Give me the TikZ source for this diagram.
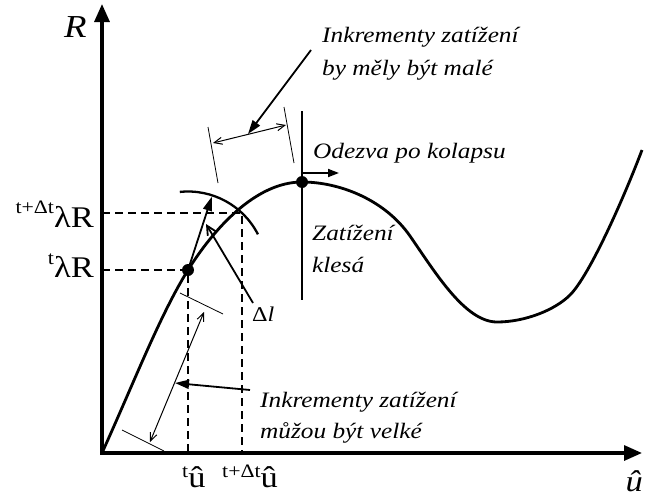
\documentclass[tikz,border=0pt]{standalone}
\usepackage{fontspec}
\setmainfont[FakeStretch=1.15]{Liberation Serif}
\usetikzlibrary{arrows.meta,calc}
\newcommand\supsc[2]{\raisebox{#2}{\fontsize{19}{19}\selectfont #1}}
\begin{document}
\begin{tikzpicture}[x=1pt,y=-1pt,
  axis/.style={line width=3.2pt,{Triangle[length=18pt,width=15pt]}-{Triangle[length=18pt,width=15pt]}},
  curve/.style={line width=2.8pt},
  thinline/.style={line width=0.8pt},
  guide/.style={line width=1.5pt,dash pattern=on 8pt off 5pt},
  pointer/.style={line width=1.8pt,-{Triangle[length=14pt,width=9pt]}},
  dimline/.style={line width=1pt,{Straight Barb[length=8pt,width=7pt]}-{Straight Barb[length=8pt,width=7pt]}},
  dot/.style={circle,fill,inner sep=0pt,minimum size=12pt},
  lbl/.style={inner sep=0pt,anchor=base west,font=\fontsize{22}{26}\selectfont\itshape},
  big/.style={inner sep=0pt,font=\fontsize{30}{30}\selectfont}]
\useasboundingbox (0,0) rectangle (646,498);
% key points
\coordinate (O) at (102,453);
\coordinate (ytop) at (102,4);
\coordinate (xend) at (642,453);
\coordinate (P1) at (188,270);
\coordinate (Q) at (242,213);
\coordinate (P2) at (302,182);
% axes
\draw[axis] (ytop) -- (O) -- (xend);
% curve
\draw[curve] (O) .. controls (135,380) and (160,315) .. (P1)
  .. controls (213,230) and (255,182) .. (P2)
  .. controls (340,182) and (385,200) .. (410,236)
  .. controls (435,272) and (465,322) .. (497,322)
  .. controls (525,322) and (555,310) .. (570,295)
  .. controls (590,275) and (625,195) .. (642,150);
% dashed guides
\coordinate (yq) at (102,213);
\coordinate (xq) at (242,453);
\coordinate (yp) at (102,270);
\coordinate (xp) at (188,453);
\draw[guide] (yq) -- (Q) -- (xq);
\draw[guide] (yp) -- (P1) -- (xp);
% arc
\draw[line width=2.3pt] (P1) ++(-96:78.5) arc[start angle=-96,end angle=-27,radius=78.5];
% dots
\node[dot] (d1) at (P1) {};
\node[dot] (d2) at (P2) {};
% arrow to the arc
\coordinate (arctip) at ($(P1)+(-72:77)$);
\draw[pointer] (d1.center) -- (arctip);
% Delta l pointer
\node[inner sep=0pt,anchor=base west,font=\fontsize{21}{21}\selectfont] (dl) at (252,321) {Δ\textit{l}};
\coordinate (dls) at (253,303);
\coordinate (dle) at (206,224);
\draw[line width=1.8pt,-{Straight Barb[length=9pt,width=9pt]}] (dls) -- (dle);
% vertical line at peak and its arrow
\coordinate (vt) at (302,111);
\coordinate (vb) at (302,300);
\draw[line width=1.6pt] (vt) -- (vb);
\coordinate (ra) at (302,173);
\coordinate (rb) at (339,173);
\draw[line width=1.8pt,-{Triangle[length=11pt,width=8pt]}] (ra) -- (rb);
% upper dimension
\coordinate (e1a) at (208,127); \coordinate (e1b) at (218,183);
\coordinate (e2a) at (284,107); \coordinate (e2b) at (294,163);
\draw[thinline] (e1a) -- (e1b);
\draw[thinline] (e2a) -- (e2b);
\coordinate (da) at (213,143); \coordinate (db) at (286,125);
\draw[dimline] (da) -- (db);
\coordinate (pa) at (311,50); \coordinate (pb) at (248,134);
\draw[pointer] (pa) -- (pb);
% lower dimension
\coordinate (f1a) at (180,293); \coordinate (f1b) at (223,314);
\coordinate (f2a) at (122,430); \coordinate (f2b) at (164,451);
\draw[thinline] (f1a) -- (f1b);
\draw[thinline] (f2a) -- (f2b);
\coordinate (ga) at (204,312); \coordinate (gb) at (150,442);
\draw[dimline] (ga) -- (gb);
\coordinate (qa) at (250,390); \coordinate (qb) at (175,383);
\draw[pointer] (qa) -- (qb);
% texts
\node[lbl] (tA1) at (322,42) {Inkrementy zatížení};
\node[lbl] (tA2) at (322,75) {by měly být malé};
\node[lbl] (tB) at (313,158) {Odezva po kolapsu};
\node[lbl] (tC1) at (312,240) {Zatížení};
\node[lbl] (tC2) at (312,272) {klesá};
\node[lbl] (tD1) at (260,407) {Inkrementy zatížení};
\node[lbl] (tD2) at (260,438) {můžou být velké};
% axis value labels
\node[big,anchor=base east] (lq) at (94,227) {\supsc{t+Δt}{13.5pt}λR};
\node[big,anchor=base east] (lp) at (94,277) {\supsc{t}{13pt}λR};
\node[big,anchor=base west] (up) at (182,487) {\supsc{t}{10pt}û};
\node[big,anchor=base west] (uq) at (222,487) {\supsc{t+Δt}{10pt}û};
% axis names
\node[inner sep=0pt,anchor=base west,font=\fontsize{32}{32}\selectfont\itshape] (Rl) at (64,37) {R};
\node[inner sep=0pt,anchor=base east,font=\fontsize{30}{30}\selectfont\itshape] (ul) at (643,491) {û};
\end{tikzpicture}
\end{document}
